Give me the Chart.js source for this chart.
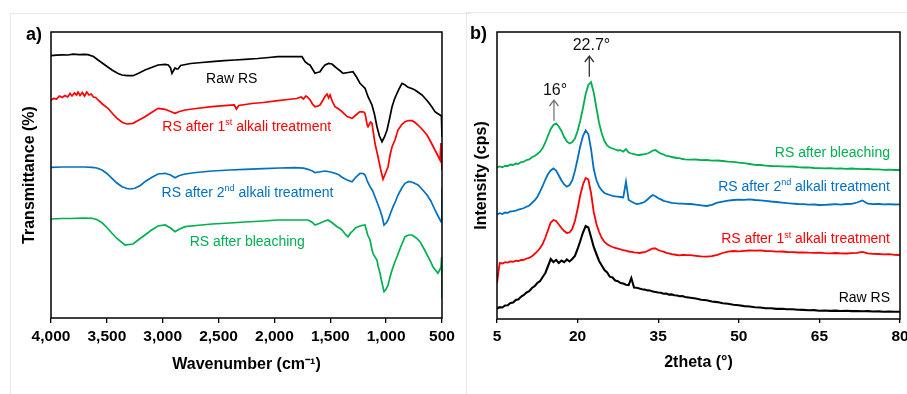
<!DOCTYPE html>
<html>
<head>
<meta charset="utf-8">
<script src="https://cdn.jsdelivr.net/npm/chart.js@4.4.1/dist/chart.umd.min.js"></script>
<style>
  html, body { margin: 0; padding: 0; background: #fff; }
  body { width: 907px; height: 394px; position: relative; overflow: hidden; }
  .frame { position: absolute; border: 1px solid #e8e8e8; }
  #wrapA { position: absolute; left: 0; top: 0; width: 462px; height: 394px; }
  #wrapB { position: absolute; left: 462px; top: 0; width: 445px; height: 394px; }
</style>
</head>
<body>
<div class="frame" style="left:10px;top:13px;width:460px;height:400px;border-right:none;"></div>
<div class="frame" style="left:466px;top:12px;width:460px;height:400px;"></div>
<div id="wrapA"><canvas id="ftir" width="462" height="394"></canvas></div>
<div id="wrapB"><canvas id="xrd" width="445" height="394"></canvas></div>
<script>
// ---------------- FTIR data (panel a) ----------------
const rawFtirWn = [4000,3950,3900,3850,3800,3750,3700,3669,3620,3579,3517,3454,3400,3364,3320,3266,3220,3159,3100,3042,2979,2950,2930,2917,2900,2890,2875,2863,2840,2818,2750,2650,2559,2450,2353,2263,2150,2050,1968,1850,1753,1726,1700,1682,1660,1637,1615,1592,1570,1547,1515,1485,1460,1440,1410,1386,1340,1297,1265,1234,1210,1189,1162,1127,1105,1082,1060,1037,1015,992,970,947,925,903,880,858,830,804,770,742,710,679,650,625,590,563,540,518,505,500];
const rawFtirT = [261.3,261.8,262.2,262,262.8,262.4,262.6,262.3,260.5,257,252,247,243.5,242,241.3,241.3,243.5,247,249.5,252,252.7,252,249,243.7,247,249,248,248,251.5,252,253.5,254.5,255.3,256.3,257,257.7,258.5,259.5,260.3,260.5,260.3,255.3,253,252,248,243.7,244.5,245.3,249,252,253.5,253,250.5,248.7,246,243.7,244.5,245.3,240,233.7,231,228.7,220.3,212,203,190.3,181,175.3,180,187,198,210.3,218,223.7,229,233.7,232,229.7,228.5,227,224.5,222,218.5,215.3,210,205.3,203.5,202,201,180];

const alk1FtirWn = [4000,3975,3950,3925,3900,3875,3850,3830,3812,3790,3770,3758,3740,3720,3700,3680,3660,3640,3620,3600,3579,3540,3490,3450,3409,3360,3320,3266,3220,3159,3100,3042,2979,2930,2890,2850,2800,2700,2559,2450,2360,2340,2320,2200,2100,1968,1880,1800,1760,1740,1720,1708,1680,1660,1637,1610,1592,1565,1545,1529,1515,1502,1480,1458,1425,1395,1350,1305,1270,1234,1200,1189,1170,1162,1140,1127,1100,1073,1050,1028,1005,983,965,947,921,894,860,831,800,768,740,715,680,634,600,563,540,518,509,505,500];
const alk1FtirT = [217,218.5,218,221,219.5,221.5,220,223.5,221,224,222,225,221.5,224.5,221,225,222,223,220,219.5,217,213,208.7,203.5,198.7,194.5,193,193.7,196.5,200.3,204.5,208.7,207.7,205.5,203.7,205.5,207,208.5,210.3,211.3,212,208,211.5,213.5,214.5,216.3,217.5,218.5,220,218,221,220.3,217,213,210.3,211,212,217,221,223,219,222,215,210.3,208,205.3,200.5,198.7,202,205.3,205,203.7,192,190.3,195,193.7,173.7,160.3,148,137.7,144,150.3,162,170.3,177,187,192.5,195.3,196.5,196.3,194.5,192,188,182,175,167,162,157,174,160,147];

const alk2FtirWn = [4000,3900,3830,3700,3633,3590,3543,3500,3454,3410,3364,3320,3293,3248,3200,3159,3100,3042,2979,2930,2890,2850,2800,2700,2559,2400,2263,2100,1950,1816,1740,1699,1660,1637,1600,1547,1500,1458,1420,1395,1350,1305,1270,1234,1205,1189,1165,1144,1120,1100,1075,1055,1035,1019,1000,983,960,938,915,894,860,831,800,786,750,715,680,634,600,563,540,509,502,500];
const alk2FtirT = [149.7,150,150,150,149.7,149,147,143.5,138.7,134,130.3,128.5,128,128.7,131.5,135.3,139.5,143,143.7,142,139.3,141.5,143,144.5,146,147,147.7,148.3,149,149.3,148.8,147.7,146,144.3,145,146,145,143.7,142,139.7,137,135.3,140,143.7,143.5,142,135,130.3,126,120.3,113,107,100,92,94,97,104,110.3,116,122,129,133.7,135.3,135.3,134,132,128,122,116,107,102,95.3,96,129];

const bleachFtirWn = [4000,3900,3830,3700,3633,3590,3543,3500,3454,3410,3364,3338,3300,3266,3220,3159,3100,3042,2979,2930,2890,2850,2800,2700,2559,2400,2263,2100,1968,1800,1699,1660,1637,1600,1560,1520,1480,1440,1410,1395,1360,1341,1320,1305,1275,1252,1220,1189,1165,1144,1130,1118,1100,1082,1070,1055,1035,1019,1000,983,965,947,925,903,870,831,800,768,730,697,660,625,600,581,560,536,520,509,503,500];
const bleachFtirT = [98,98.5,98.5,99,98.7,97.5,94.3,89.5,83.7,78.5,74.3,72,72.5,73,77,82,87,91,92,89,85.3,88,90.3,91.5,93,94,95,96,97,97,97,94.5,92,93.5,95.5,97,94,90.3,88.5,87,82,80.3,84,85.3,89,90.3,91.5,92,82,77,69,63.7,60,57,50,43.7,33,25.3,28,32,40,47,54,60.3,70,80.3,82,82,79,75.3,68,60.3,55,50.3,47,43.7,47,50.3,60,19];

const ftirTickValues = [4000,3500,3000,2500,2000,1500,1000,500];

// ---------------- XRD data (panel b) ----------------
const xrdAngles = [5,5.5,6,6.5,7,7.5,8,8.5,9,9.5,10,10.5,11,11.5,12,12.5,13,13.5,14,14.5,15,15.5,16,16.5,17,17.5,18,18.5,19,19.5,20,20.5,21,21.5,22,22.5,23,23.5,24,24.5,25,25.5,26,26.5,27,27.5,28,28.5,29,29.5,30,30.5,31,31.5,32,32.5,33,33.5,34,34.5,35,35.5,36,36.5,37,37.5,38,38.5,39,39.5,40,41,42,43,44,45,46,47,48,49,50,51,52,53,54,55,56,57,58,59,60,61,62,63,64,65,66,67,68,69,70,71,72,73,74,75,76,77,78,79,80];

const xrdRaw = [10.5,11.8,11.5,13.5,13.8,16,16.5,19,19.8,22.5,24,26.5,27.8,31,32.8,36,37.8,42,46,53,60,57,59,56,58.5,56.8,59.5,57.5,60,63,70,78,86.5,93,91.5,82,72,65,58,53.5,49,46.5,42.3,41.5,38.5,37.8,36,35.5,34.2,33.8,41,31.5,31.2,30.4,29.8,29.4,28.6,28.5,27.4,27,26.5,26.3,25.2,25.5,24.4,24.6,23.8,23.5,22.8,22.9,22,21.2,20.5,19.3,18.8,17.5,16.9,15.7,15.3,14.2,13.8,12.9,12.5,11.7,11.5,10.8,10.7,10.1,10.2,9.7,9.8,9.2,9.1,8.8,8.9,8.3,8.5,8.1,8.4,8,8.2,7.9,8,7.7,7.9,7.5,7.6,7.3,7.5,7.2,7.3];

const xrdAlk1 = [36,56,55.5,56.8,56.4,57.5,57.2,58.3,58,59,59.2,60.5,61.2,62.8,65,67.5,70.7,75,81.5,89,96.5,99,98,94.5,91,88,86,86.5,90,98,110,124,134.5,141,139.5,126,107,95,87,81,77,74.8,73.2,72,71,70.5,69.6,68.9,68.4,67.5,67.1,66.6,66.3,66,66.5,66.8,68,69.4,70.7,70.5,69,68,67.3,66.2,65.6,64.9,64.5,64,63.7,64.2,64,63.8,63.2,62.6,62.3,62.8,64.2,66,67.3,68,67.6,68.2,68.5,68.3,68.6,68,67.8,67.3,67.5,67,66.8,66.5,66.7,66.3,66.1,66.4,65.9,65.7,66,65.7,65.5,65.8,66.2,67.2,65.6,65.2,65,64.6,64.8,64.2,64];

const xrdAlk2 = [104.5,105.8,105,106.5,106.2,107.5,107.8,108.4,109.5,110,111,112.3,113.5,116,118.5,122,127.3,133,139.5,145,148.5,150.7,148.5,143.5,138.5,134.5,132.3,134,138.5,148,160,173,183,188.5,185,170,150,139,132.5,128.5,126,124.8,124,123.2,122.6,122.3,122,121.5,137.3,119,117.5,116,115,115.4,116,117.3,119.5,122,124,122.8,120.7,119.6,118.2,117.5,116.8,116.2,115.9,115.7,115.3,115.4,115.1,115,114.3,113.6,113,114.2,116.3,117.3,118.4,119,119.4,119.2,119.7,119,118.6,118.2,117.5,117,116.4,115.8,115.4,115,114.8,114.3,114.5,114,114.2,114.5,114.8,114.4,115,115.2,116.5,118.5,115.3,114.8,115,114.6,114.9,114.5,114.7];

const xrdBleach = [151.5,152.5,151.8,153.2,153,154.5,154,155.5,155.2,157,157.3,159,159.5,161.8,163,165,167.3,171,176.5,183.5,190,194,195.5,192.5,188,182,177.5,175.5,177,180.5,188,198.5,211,225,234,237,226.5,211,196,185.5,178,173.5,171.5,170.5,169.5,168.5,168.8,167.3,170,166.5,165.5,164.8,164.2,164,164.5,164.8,165.5,166.8,168.5,169,167,165.3,164.5,163.2,162.8,162,161.5,161,160.8,160,159.6,159.3,159.5,158.8,159,158.3,158.5,158,157.3,157.2,156.3,155.8,155,154.2,154,153.4,153,152.8,152.6,152.3,152.5,151.8,151.5,151.6,151,150.8,150.7,150.9,150.4,150.6,150.2,150.5,150.2,149.9,150,149.6,149.7,149.2,149.4,149,149];

const xrdTickValues = [5,20,35,50,65,80];

// ---------------- colours / labels ----------------
const COL = { raw: '#000000', alk1: '#ff0000', alk2: '#0070c0', bleach: '#00b050' };
const FONT = '"Liberation Sans", Arial, sans-serif';

const ftirLabels = [
  { x: 2382, y: 234, align: 'center', color: COL.raw,    parts: [{t:'Raw RS'}] },
  { x: 2248, y: 186, align: 'center', color: COL.alk1,   parts: [{t:'RS after 1'},{t:'st',sup:true},{t:' alkali treatment'}] },
  { x: 2241, y: 120, align: 'center', color: COL.alk2,   parts: [{t:'RS after 2'},{t:'nd',sup:true},{t:' alkali treatment'}] },
  { x: 2243, y: 71,  align: 'center', color: COL.bleach, parts: [{t:'RS after bleaching'}] }
];
const xrdLabels = [
  { x: 78.14, y: 161.7, align: 'right', color: COL.bleach, parts: [{t:'RS after bleaching'}] },
  { x: 78.14, y: 128.3, align: 'right', color: COL.alk2,   parts: [{t:'RS after 2'},{t:'nd',sup:true},{t:' alkali treatment'}] },
  { x: 78.14, y: 75.7,  align: 'right', color: COL.alk1,   parts: [{t:'RS after 1'},{t:'st',sup:true},{t:' alkali treatment'}] },
  { x: 78.14, y: 16.7,  align: 'right', color: COL.raw,    parts: [{t:'Raw RS'}] }
];
const xrdPeakNotes = [
  { text: '16\u00B0',   tx: 15.8,  ty: 224, ax: 15.6,  y0: 198.3, y1: 219, color: '#777777' },
  { text: '22.7\u00B0', tx: 22.57, ty: 269, ax: 22.18, y0: 242.3, y1: 263, color: '#333333' }
];

function pairs(xs, ys) { return xs.map((x, i) => ({ x: x, y: ys[i] })); }

function drawRich(ctx, parts, x, y, align, size, color) {
  ctx.save();
  ctx.fillStyle = color;
  ctx.textBaseline = 'alphabetic';
  const fonts = parts.map(p => (p.sup ? Math.round(size * 0.64) : size) + 'px ' + FONT);
  let w = 0;
  const ws = parts.map((p, i) => { ctx.font = fonts[i]; const m = ctx.measureText(p.t).width; w += m; return m; });
  let cx = align === 'center' ? x - w / 2 : (align === 'right' ? x - w : x);
  parts.forEach((p, i) => {
    ctx.font = fonts[i];
    ctx.fillText(p.t, cx, p.sup ? y - size * 0.4 : y);
    cx += ws[i];
  });
  ctx.restore();
}

const boxPlugin = {
  id: 'boxPlugin',
  afterDraw(chart, args, opts) {
    const { ctx, chartArea: a } = chart;
    ctx.save();
    ctx.strokeStyle = '#000';
    ctx.lineWidth = 1.5;
    ctx.strokeRect(a.left, a.top, a.right - a.left, a.bottom - a.top);
    ctx.restore();
    ctx.save();
    ctx.fillStyle = '#000';
    ctx.font = 'bold 18px ' + FONT;
    ctx.textBaseline = 'alphabetic';
    ctx.fillText(opts.letter, a.left + opts.letterDx, opts.letterY);
    ctx.restore();
  }
};

const labelPlugin = {
  id: 'labelPlugin',
  afterDatasetsDraw(chart, args, opts) {
    const { ctx, scales } = chart;
    (opts.items || []).forEach(l => {
      drawRich(ctx, l.parts, scales.x.getPixelForValue(l.x), scales.y.getPixelForValue(l.y), l.align, 14, l.color);
    });
    (opts.notes || []).forEach(n => {
      const ax = scales.x.getPixelForValue(n.ax);
      const y0 = scales.y.getPixelForValue(n.y0);
      const y1 = scales.y.getPixelForValue(n.y1);
      ctx.save();
      ctx.strokeStyle = n.color;
      ctx.lineWidth = 1.3;
      ctx.beginPath();
      ctx.moveTo(ax, y0); ctx.lineTo(ax, y1);
      ctx.moveTo(ax - 4.5, y1 + 6); ctx.lineTo(ax, y1); ctx.lineTo(ax + 4.5, y1 + 6);
      ctx.stroke();
      ctx.restore();
      drawRich(ctx, [{t: n.text}], scales.x.getPixelForValue(n.tx), scales.y.getPixelForValue(n.ty), 'center', 16, '#111');
    });
  }
};

function lineDs(label, data, color, w) {
  return { label: label, data: data, borderColor: color, backgroundColor: color, borderWidth: w,
           pointRadius: 0, tension: 0, fill: false };
}

function fixX(height) {
  return s => { s.height = height; s.paddingLeft = 0; s.paddingRight = 0; };
}

Chart.defaults.font.family = FONT;
Chart.defaults.color = '#000';

// ---------------- panel a ----------------
new Chart(document.getElementById('ftir'), {
  type: 'line',
  data: {
    datasets: [
      lineDs('Raw RS', pairs(rawFtirWn, rawFtirT), COL.raw, 1.7),
      lineDs('RS after 1st alkali treatment', pairs(alk1FtirWn, alk1FtirT), COL.alk1, 1.7),
      lineDs('RS after 2nd alkali treatment', pairs(alk2FtirWn, alk2FtirT), COL.alk2, 1.7),
      lineDs('RS after bleaching', pairs(bleachFtirWn, bleachFtirT), COL.bleach, 1.7)
    ]
  },
  options: {
    responsive: false, animation: false,
    layout: { padding: { left: 0, right: 20, top: 32, bottom: 0 } },
    plugins: {
      legend: { display: false }, tooltip: { enabled: false },
      boxPlugin: { letter: 'a)', letterDx: -25, letterY: 40 },
      labelPlugin: { items: ftirLabels }
    },
    scales: {
      x: {
        type: 'linear', reverse: true, min: 500, max: 4000,
        afterBuildTicks: s => { s.ticks = ftirTickValues.map(v => ({ value: v })); },
        afterFit: fixX(76),
        ticks: { autoSkip: false, maxRotation: 0, padding: 4, color: '#000',
                 font: { size: 15.5, weight: 'bold' },
                 callback: v => Number(v).toLocaleString('en-US') },
        grid: { drawOnChartArea: false, drawTicks: true, tickLength: 5, color: '#000', lineWidth: 1.3 },
        border: { display: false },
        title: { display: true, text: 'Wavenumber (cm\u207B\u00B9)', color: '#000',
                 font: { size: 16, weight: 'bold' }, padding: { top: 0, bottom: 20 } }
      },
      y: {
        min: -1, max: 285,
        afterFit: s => { s.width = 51; },
        ticks: { display: false },
        grid: { display: false },
        border: { display: false },
        title: { display: true, text: 'Transmittance (%)', color: '#000',
                 font: { size: 16, weight: 'bold' }, padding: { top: 19.5, bottom: 0 } }
      }
    }
  },
  plugins: [boxPlugin, labelPlugin]
});

// ---------------- panel b ----------------
new Chart(document.getElementById('xrd'), {
  type: 'line',
  data: {
    datasets: [
      lineDs('Raw RS', pairs(xrdAngles, xrdRaw), COL.raw, 2.1),
      lineDs('RS after 1st alkali treatment', pairs(xrdAngles, xrdAlk1), COL.alk1, 1.8),
      lineDs('RS after 2nd alkali treatment', pairs(xrdAngles, xrdAlk2), COL.alk2, 1.8),
      lineDs('RS after bleaching', pairs(xrdAngles, xrdBleach), COL.bleach, 1.8)
    ]
  },
  options: {
    responsive: false, animation: false,
    layout: { padding: { left: 0, right: 7, top: 32, bottom: 0 } },
    plugins: {
      legend: { display: false }, tooltip: { enabled: false },
      boxPlugin: { letter: 'b)', letterDx: -27, letterY: 39 },
      labelPlugin: { items: xrdLabels, notes: xrdPeakNotes }
    },
    scales: {
      x: {
        type: 'linear', min: 5, max: 80,
        afterBuildTicks: s => { s.ticks = xrdTickValues.map(v => ({ value: v })); },
        afterFit: fixX(75),
        ticks: { autoSkip: false, maxRotation: 0, padding: 4, color: '#000',
                 font: { size: 15.5, weight: 'bold' } },
        grid: { drawOnChartArea: false, drawTicks: true, tickLength: 4, color: '#000', lineWidth: 1.3 },
        border: { display: false },
        title: { display: true, text: '2theta (\u00B0)', color: '#000',
                 font: { size: 16, weight: 'bold' }, padding: { top: 0, bottom: 22 } }
      },
      y: {
        min: 0, max: 287,
        afterFit: s => { s.width = 35; },
        ticks: { display: false },
        grid: { display: false },
        border: { display: false },
        title: { display: true, text: 'Intensity (cps)', color: '#000',
                 font: { size: 16, weight: 'bold' }, padding: { top: 9.5, bottom: 0 } }
      }
    }
  },
  plugins: [boxPlugin, labelPlugin]
});
</script>
</body>
</html>
